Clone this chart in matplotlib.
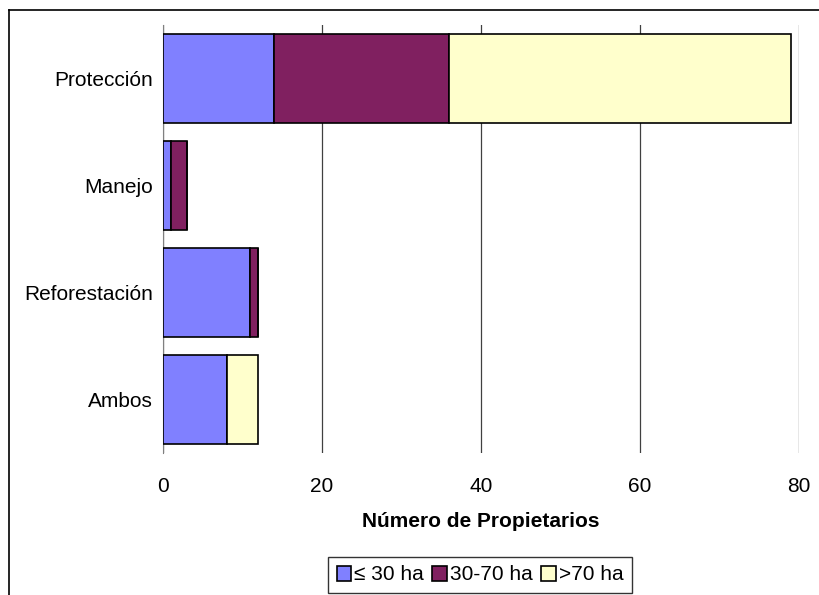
import numpy as np
import matplotlib.pyplot as plt
from matplotlib.lines import Line2D

plt.rcParams['font.family'] = ['Liberation Sans', 'DejaVu Sans']

# datos
categorias = ['Protección', 'Manejo', 'Reforestación', 'Ambos']
menor30 = [14, 1, 11, 8]
entre30_70 = [22, 2, 1, 0]
mayor70 = [43, 0, 0, 4]
etiquetas = ['≤ 30 ha', '30-70 ha', '>70 ha']
colores = ['#8080FF', '#802060', '#FFFFCC']

fig = plt.figure(figsize=(8.19, 5.95), dpi=100)
ax = fig.add_axes([163/819, 1-453/595, (799-163)/819, (453-25)/595])

y = np.arange(len(categorias))
izq = np.zeros(len(categorias))
for vals, lab, col in zip([menor30, entre30_70, mayor70], etiquetas, colores):
    ax.barh(y, vals, left=izq, height=0.84, color=col, edgecolor='black',
            linewidth=1.2, label=lab, zorder=3)
    izq += np.array(vals)

ax.set_xlim(0, 80)
ax.set_ylim(3.5, -0.5)
ax.set_xticks([0, 20, 40, 60, 80])
ax.set_yticks(y)
ax.set_yticklabels(categorias)
ax.tick_params(axis='both', labelsize=15, length=0)
ax.tick_params(axis='x', pad=17)
ax.tick_params(axis='y', pad=7)
ax.grid(axis='x', color='#404040', linewidth=0.9, zorder=0)
for s in ['top', 'right', 'bottom']:
    ax.spines[s].set_visible(False)
ax.spines['left'].set_color('#808080')
ax.set_xlabel('Número de Propietarios', fontsize=15, fontweight='bold', labelpad=12)

leg = fig.legend(loc='center', bbox_to_anchor=(480/819, 1-575/595), ncol=3,
                 fontsize=15, frameon=True, fancybox=False, edgecolor='black',
                 handlelength=0.7, handleheight=0.7, handletextpad=0.15,
                 columnspacing=0.4, borderpad=0.4, borderaxespad=0)
leg.get_frame().set_linewidth(1.0)

# borde exterior
fig.add_artist(Line2D([9/819, 9/819], [0, 1-10/595], color='black', linewidth=1.2))
fig.add_artist(Line2D([9/819, 1], [1-10/595, 1-10/595], color='black', linewidth=1.2))

plt.savefig('out.png', dpi=100)
